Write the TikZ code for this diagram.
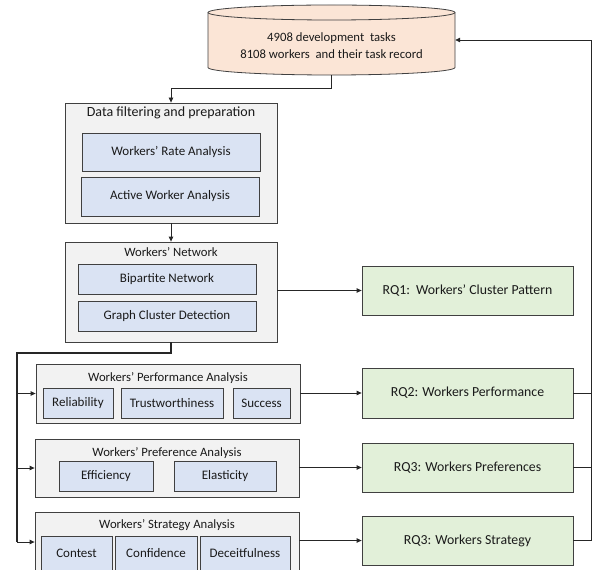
\documentclass[tikz,border=0pt]{standalone}
\usepackage{fontspec}
\setmainfont{Carlito}
\usepackage{xcolor}
\usetikzlibrary{shapes,arrows,positioning,calc,arrows.meta}

\definecolor{dbpeach}{HTML}{FBE5D6}
\definecolor{stepblue}{HTML}{DAE3F3}
\definecolor{groupgray}{HTML}{F2F2F2}
\definecolor{rqgreen}{HTML}{E2F0D9}
\definecolor{edgegray}{HTML}{404040}
\definecolor{txt}{HTML}{1A1A1A}

\tikzset{
    every node/.style={font=\fontsize{12.7}{17}\selectfont, text=txt},
    group/.style={draw=edgegray, fill=groupgray, line width=0.8pt, inner sep=0pt},
    inner/.style={draw=edgegray, fill=stepblue, line width=0.8pt, inner sep=0pt, font=\fontsize{13}{15}\selectfont},
    rqbox/.style={draw=edgegray, fill=rqgreen, line width=0.8pt, inner sep=0pt, minimum width=211pt, font=\fontsize{13.8}{16}\selectfont},
    arr/.style={line width=0.8pt, draw=black!85, -{Triangle[length=5pt,width=4.5pt]}},
    wire/.style={line width=0.8pt, draw=black!85}
}

\begin{document}
\begin{tikzpicture}[x=1pt, y=-1pt]
    \useasboundingbox (0,0) rectangle (593,569);
    \clip (0,0) rectangle (593,569);

    % Data source
    \draw[line width=0.8pt, draw=edgegray, fill=dbpeach]
        (208,12.5) -- (208,67.5)
        arc[start angle=180, end angle=360, x radius=123.5pt, y radius=7.5pt]
        -- (455,12.5)
        arc[start angle=0, end angle=180, x radius=123.5pt, y radius=7.5pt];
    \draw[line width=0.8pt, draw=edgegray]
        (208,12.5) arc[start angle=180, end angle=360, x radius=123.5pt, y radius=7.5pt];
    \node[minimum width=247pt, minimum height=70pt] (db) at (331.5,40) {};
    \node[align=center] (dbT) at (331.5,45.5)
        {4908 development\ \ tasks\\8108 workers\ \ and their task record};

    % Data filtering
    \node[group, minimum width=212pt, minimum height=120pt] (filt) at (171,163) {};
    \node[font=\fontsize{14}{16}\selectfont] (filtT) at (171,112.5) {Data filtering and preparation};
    \node[inner, minimum width=178pt, minimum height=38pt] (rate) at (171,152) {Workers’\ Rate Analysis};
    \node[inner, minimum width=178pt, minimum height=39pt] (active) at (170,196.5) {Active Worker\ Analysis};

    % Workers network
    \node[group, minimum width=212pt, minimum height=100pt] (net) at (171,292) {};
    \node (netT) at (171,252) {Workers’\ Network};
    \node[inner, minimum width=178pt, minimum height=30pt] (bip) at (167,279) {Bipartite Network};
    \node[inner, minimum width=178pt, minimum height=30pt] (clus) at (167,316) {Graph Cluster Detection};

    % Performance
    \node[group, minimum width=264pt, minimum height=59pt] (perf) at (168,393.5) {};
    \node (perfT) at (168,378) {Workers’\ Performance\ Analysis};
    \node[inner, minimum width=70pt, minimum height=30pt] (rel) at (78,403) {Reliability};
    \node[inner, minimum width=102pt, minimum height=30pt] (trust) at (172,403) {Trustworthiness};
    \node[inner, minimum width=57pt, minimum height=30pt] (succ) at (261.5,403) {Success};

    % Preference
    \node[group, minimum width=264pt, minimum height=58pt] (pref) at (167,468) {};
    \node (prefT) at (167,453) {Workers’\ Preference Analysis};
    \node[inner, minimum width=94pt, minimum height=30pt] (eff) at (106,476) {Efficiency};
    \node[inner, minimum width=102pt, minimum height=30pt] (ela) at (225,476) {Elasticity};

    % Strategy
    \node[group, minimum width=264pt, minimum height=60pt] (strat) at (167,542) {};
    \node (stratT) at (167,525) {Workers’\ Strategy Analysis};
    \node[inner, minimum width=71pt, minimum height=34pt] (cont) at (76.5,553) {Contest};
    \node[inner, minimum width=82pt, minimum height=34pt] (conf) at (156,553) {Confidence};
    \node[inner, minimum width=90pt, minimum height=34pt] (dec) at (245,553) {Deceitfulness};

    % Research questions
    \node[rqbox, minimum height=49pt] (rq1) at (467.5,290.5) {RQ1:\ \ Workers’ Cluster Pattern};
    \node[rqbox, minimum height=50pt] (rq2) at (467.5,393) {RQ2: Workers\ Performance};
    \node[rqbox, minimum height=49pt] (rq3) at (467.5,467.5) {RQ3: Workers\ Preferences};
    \node[rqbox, minimum height=49pt] (rq4) at (467.5,540.5) {RQ3: Workers\ Strategy};

    % Connectors
    \coordinate (bus) at (17,353);
    \coordinate (busend) at (17,542);
    \coordinate (ret) at (591,40);

    \draw[arr] (db.south) -- ++(0,13) -| (filt.north);
    \draw[arr] (filt.south) -- (net.north);
    \draw[arr] (net.east |- rq1.west) -- (rq1.west);
    \draw[line width=1.5pt, draw=black!85] (net.south) |- (bus) -- (busend);
    \draw[arr] (bus |- perf.west) -- (perf.west);
    \draw[arr] (bus |- pref.west) -- (pref.west);
    \draw[arr] (busend) -- (strat.west);
    \draw[arr] (perf.east |- rq2.west) -- (rq2.west);
    \draw[arr] (pref.east |- rq3.west) -- (rq3.west);
    \draw[arr] (strat.east |- rq4.west) -- (rq4.west);

    % Feedback to data source
    \draw[wire] (rq2.east) -- (rq2.east -| ret);
    \draw[wire] (rq3.east) -- (rq3.east -| ret);
    \draw[arr] (rq4.east) -| (ret) -- (db.east);

\end{tikzpicture}
\end{document}
